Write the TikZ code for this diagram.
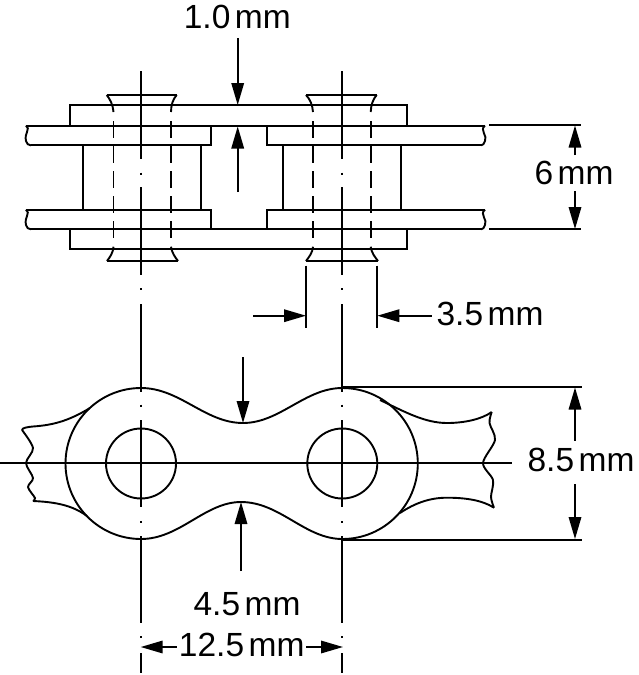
\documentclass[tikz,border=0pt]{standalone}
\usepackage{fontspec}
\setmainfont{Liberation Sans}
\usetikzlibrary{arrows.meta}
\newcommand{\mmlabel}[1]{#1\kern4.5pt mm}
\begin{document}
\begin{tikzpicture}[x=1pt, y=-1pt, line width=1.9pt,
        dimarrow/.style={-{Triangle[length=22pt,width=12.5pt]}, line width=1.7pt},
        dimtext/.style={inner sep=0pt, anchor=base, font=\fontsize{33.5}{38}\selectfont},
        hiddenline/.style={dash pattern=on 16.5pt off 8.5pt}]
            \useasboundingbox (0,0) rectangle (638,675);
            % side view, plates
            \draw (70,125.6) -- (70,105) -- (407,105) -- (407,125.6);
            \draw (70,229.3) -- (70,249.3) -- (407,249.3) -- (407,229.3);
            \draw (26,125.6) -- (485,125.6);
            \draw (26,125.6) .. controls (31,129) and (24,133) .. (26,141) .. controls (27,144) and (28,145) .. (31,145.4);
            \draw (31,145.4) -- (211,145.4) -- (211,125.6);
            \draw (485,125.6) .. controls (479,130) and (488,136) .. (485,141) .. controls (484,144) and (483,145) .. (481,145.4);
            \draw (481,145.4) -- (267,145.4) -- (267,125.6);
            \draw (26,209.7) -- (211,209.7) -- (211,229.3);
            \draw (26,209.7) .. controls (31,213) and (24,217) .. (26,225) .. controls (27,228) and (28,229) .. (31,229.3);
            \draw (31,229.3) -- (481,229.3);
            \draw (485,209.7) -- (267,209.7) -- (267,229.3);
            \draw (485,209.7) .. controls (479,214) and (488,220) .. (485,225) .. controls (484,228) and (483,229) .. (481,229.3);
            % rollers
            \draw (82.7,145.4) -- (82.7,209.7);
            \draw (200.7,145.4) -- (200.7,209.7);
            \draw (282.7,145.4) -- (282.7,209.7);
            \draw (400.7,145.4) -- (400.7,209.7);
            % pins
            \draw (106.7,95) -- (176.7,95);
            \draw (106.7,95) .. controls (110,99) and (113,105) .. (113.5,112);
            \draw (176.7,95) .. controls (173,99) and (171,105) .. (171,112);
            \draw [hiddenline] (113.5,121) -- (113.5,238);
            \draw [hiddenline] (171,121) -- (171,238);
            \draw (113.5,246.7) .. controls (113,253) and (110,257) .. (107,261);
            \draw (171,246.7) .. controls (172,253) and (175,257) .. (178,261);
            \draw (107,261) -- (178,261);
            \draw (306,95) -- (376.7,95);
            \draw (306,95) .. controls (310,99) and (312.5,105) .. (313,112);
            \draw (376.7,95) .. controls (373,99) and (371,105) .. (370.7,112);
            \draw [hiddenline] (313,121) -- (313,238);
            \draw [hiddenline] (370.7,121) -- (370.7,238);
            \draw (313,246.7) .. controls (312.5,253) and (309,257) .. (306,261);
            \draw (370.7,246.7) .. controls (371.5,253) and (375,257) .. (378,261);
            \draw (306,261) -- (378,261);
            % centre lines
            \draw (141,71) -- (141,159);
            \draw (141,172.5) -- (141,174.5);
            \draw (141,187) -- (141,275);
            \draw (141,288) -- (141,290);
            \draw (141,304) -- (141,392);
            \draw (141,404.7) -- (141,406.7);
            \draw (141,420) -- (141,507);
            \draw (141,521) -- (141,523);
            \draw (141,536) -- (141,623);
            \draw (141,636) -- (141,638);
            \draw (141,653) -- (141,673);
            \draw (342.3,71) -- (342.3,159);
            \draw (342.3,172.5) -- (342.3,174.5);
            \draw (342.3,187) -- (342.3,275);
            \draw (342.3,288) -- (342.3,290);
            \draw (342.3,304) -- (342.3,392);
            \draw (342.3,404.7) -- (342.3,406.7);
            \draw (342.3,420) -- (342.3,507);
            \draw (342.3,521) -- (342.3,523);
            \draw (342.3,536) -- (342.3,623);
            \draw (342.3,636) -- (342.3,638);
            \draw (342.3,653) -- (342.3,673);
            \draw (0,463.3) -- (512,463.3);
            % front view
            \draw (141,463.5) circle (35);
            \draw (342.3,463.5) circle (35);
            \draw (141,388) arc[start angle=-90, delta angle=-180, radius=75.5];
            \draw (342.3,388) arc[start angle=-90, delta angle=180, radius=75.5];
            \draw (141,388) .. controls (180,388) and (205,423) .. (243,423) .. controls (280,423) and (305,388) .. (342.3,388);
            \draw (141,539) .. controls (180,539) and (205,502) .. (241,502) .. controls (280,502) and (305,539) .. (342.3,539);
            \draw (90,408) .. controls (70,420) and (55,425) .. (33,426.5) .. controls (27,427) and (22,428) .. (22,430);
            \draw (33,501) .. controls (55,502) and (72,505) .. (87,516);
            \draw plot[smooth] coordinates {(22,430) (33,448) (26,463) (33,478) (28,487) (35,498) (33,501)};
            \draw (380,400) .. controls (405,412) and (425,423) .. (447,423) .. controls (465,423) and (482,419) .. (491.7,412);
            \draw (400,513) .. controls (415,503) and (430,497.7) .. (447,497.7) .. controls (465,497.7) and (482,500) .. (494,507.7);
            \draw plot[smooth] coordinates {(491.7,412) (489.5,423) (495,440) (483,463) (493,480) (491,497) (494,507.7)};
            % dimensions
            \node [dimtext] (gaugetext) at (237.3,28) {\mmlabel{1.0}};
            \draw [dimarrow] (237.7,38) -- (237.7,105);
            \draw [dimarrow] (237.7,192) -- (237.7,126.5);
            \draw (489,125) -- (581,125);
            \draw (489,229) -- (581,229);
            \node [dimtext] (widthtext) at (574,184) {\mmlabel{6}};
            \draw [dimarrow] (575,155) -- (575,125.5);
            \draw [dimarrow] (575,191) -- (575,229);
            \draw (306,265.7) -- (306,327.7);
            \draw (377.3,265.7) -- (377.3,327.7);
            \draw [dimarrow] (253,315.7) -- (306,315.7);
            \draw [dimarrow] (431.7,315.7) -- (377.3,315.7);
            \node [dimtext] (pintext) at (490,325.5) {\mmlabel{3.5}};
            \draw (342.3,386.7) -- (582,386.7);
            \draw (342.3,540) -- (582,540);
            \draw [dimarrow] (575,440.7) -- (575,387.5);
            \draw [dimarrow] (575,484) -- (575,539);
            \node [dimtext] (heighttext) at (581,471) {\mmlabel{8.5}};
            \draw [dimarrow] (243,357) -- (243,423);
            \draw [dimarrow] (241,571) -- (241,502);
            \node [dimtext] (waisttext) at (247,615) {\mmlabel{4.5}};
            \draw [dimarrow] (176.7,647) -- (140.7,647);
            \draw [dimarrow] (306,647) -- (343,647);
            \node [dimtext] (pitchtext) at (241.7,656) {\mmlabel{12.5}};
        \end{tikzpicture}
\end{document}
